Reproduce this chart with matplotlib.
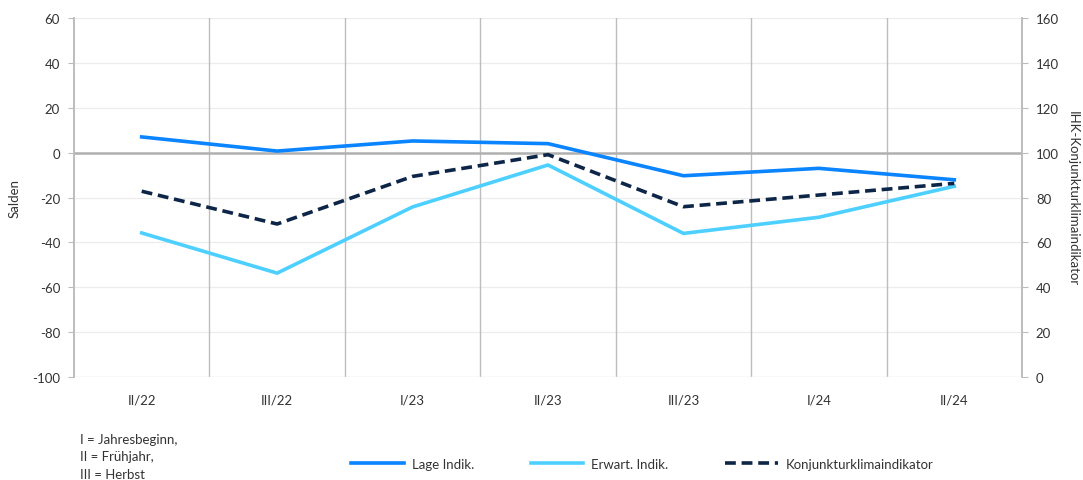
import numpy as np
import matplotlib.pyplot as plt

plt.rcParams['font.family'] = ['Lato', 'DejaVu Sans']
plt.rcParams['axes.unicode_minus'] = False

# Daten
quartale = ['II/22', 'III/22', 'I/23', 'II/23', 'III/23', 'I/24', 'II/24']
lage = [7.0, 0.7, 5.2, 4.0, -10.3, -7.0, -12.1]
erwart = [-35.8, -53.7, -24.2, -5.5, -36.0, -28.8, -15.0]
konjunktur = [82.8, 68.2, 89.4, 99.1, 75.9, 81.1, 86.3]

c_lage = '#0a84ff'
c_erwart = '#4dd0ff'
c_konj = '#0d2648'
c_grid = '#bdbdbd'
c_text = '#333333'

fig = plt.figure(figsize=(10.83, 4.81), dpi=100)
ax = fig.add_axes([0.0683, 0.2141, 0.8754, 0.7464])
ax2 = ax.twinx()

x = np.arange(len(quartale))

# Gitter
ax.set_ylim(-100, 60)
ax.set_yticks(np.arange(-100, 61, 20))
for v in np.arange(-100, 61, 20):
    if v != 0:
        ax.axhline(v, color='#ececec', lw=0.9, zorder=0)
for b in np.arange(0.5, len(quartale) - 1, 1):
    ax.axvline(b, color=c_grid, lw=1.0, zorder=0)
ax.axhline(0, color='#b0b0b0', lw=1.8, zorder=1)

ax.plot(x, lage, color=c_lage, lw=2.6, zorder=3, label='Lage Indik.')
ax.plot(x, erwart, color=c_erwart, lw=2.6, zorder=3, label='Erwart. Indik.')
ax2.plot(x, konjunktur, color=c_konj, lw=2.6, ls=(0, (3, 1.6)), zorder=3,
         label='Konjunkturklimaindikator')

ax.set_xlim(-0.5, len(quartale) - 0.5)
ax.set_xticks(x)
ax.set_xticklabels(quartale)
ax2.set_ylim(0, 160)
ax2.set_yticks(np.arange(0, 161, 20))

for a in (ax, ax2):
    a.spines['top'].set_visible(False)
    a.spines['bottom'].set_visible(False)
    a.spines['left'].set_color(c_grid)
    a.spines['right'].set_color(c_grid)
    a.spines['left'].set_linewidth(1.2)
    a.spines['right'].set_linewidth(1.2)
ax.tick_params(axis='y', colors=c_grid, labelcolor=c_text, labelsize=9.5, length=4, pad=6)
ax2.tick_params(axis='y', colors=c_grid, labelcolor=c_text, labelsize=9.5, length=4, pad=6)
ax.tick_params(axis='x', length=0, labelcolor=c_text, labelsize=9.5, pad=12)
ax.axhline(-100, color='#ececec', lw=1.0, zorder=0)

ax.set_ylabel('Salden', color=c_text, fontsize=9.5, labelpad=8)
ax2.set_ylabel('IHK-Konjunkturklimaindikator', color=c_text, fontsize=9.5,
               rotation=270, labelpad=14)

h1, l1 = ax.get_legend_handles_labels()
h2, l2 = ax2.get_legend_handles_labels()
fig.legend(h1 + h2, l1 + l2, loc='center', bbox_to_anchor=(0.593, 0.034), ncol=3,
           frameon=False, fontsize=9.5, handlelength=4.0, columnspacing=4.3,
           handletextpad=0.6, labelcolor=c_text)

fig.text(0.074, 0.049, 'I = Jahresbeginn,\nII = Frühjahr,\nIII = Herbst',
         fontsize=9.5, color=c_text, va='center', linespacing=1.55)

fig.savefig('out.png', dpi=100)
